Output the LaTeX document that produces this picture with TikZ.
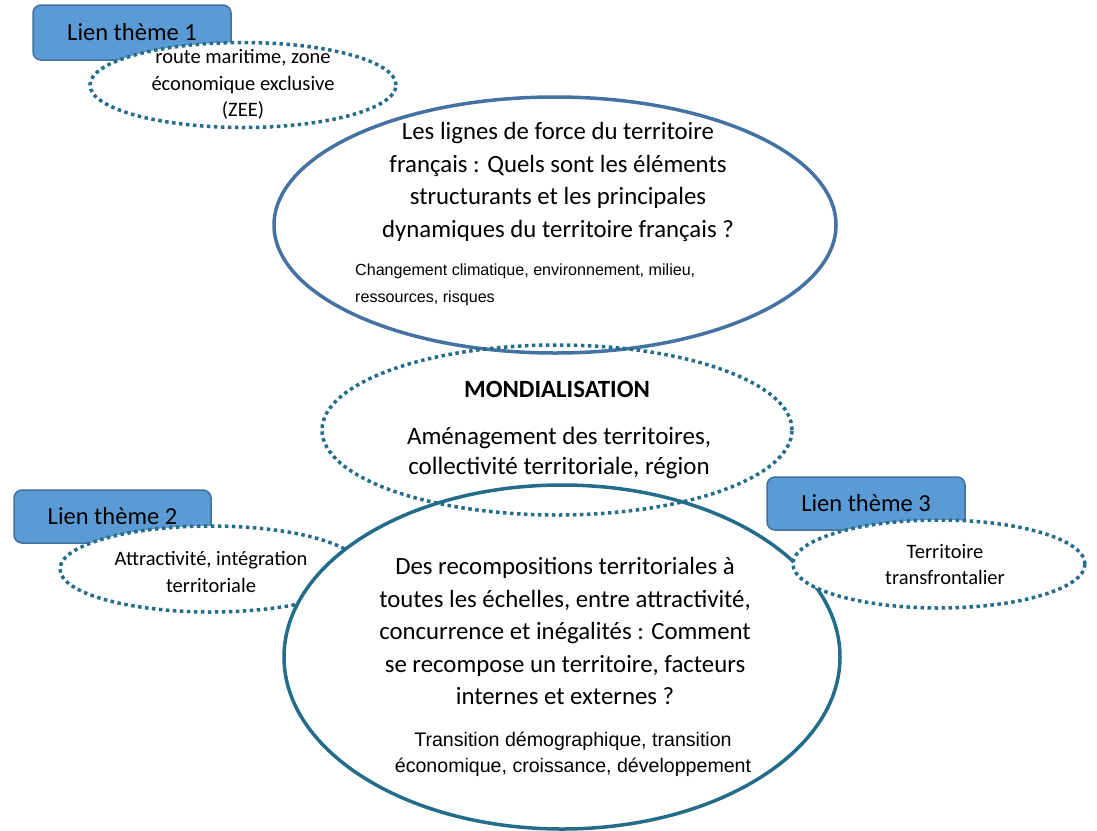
\documentclass[tikz,border=0pt]{standalone}
\usepackage{fontspec}
\setmainfont{Carlito}
\newfontfamily\arialfont{Liberation Sans}
\usetikzlibrary{shapes.geometric}
\definecolor{boxfill}{HTML}{5B9BD5}
\definecolor{boxline}{HTML}{41719C}
\definecolor{topline}{HTML}{4472A3}
\definecolor{tealline}{HTML}{236C8A}
\begin{document}
\begin{tikzpicture}[x=1pt,y=-1pt,
  lienbox/.style={draw=boxline, fill=boxfill, line width=1.5pt, rounded corners=8pt, inner sep=0pt, font=\fontsize{24.5}{28}\selectfont},
  dotell/.style={ellipse, draw=tealline, line width=3.5pt, dash pattern=on 3.5pt off 3.5pt, inner sep=0pt},
  bigell/.style={ellipse, line width=3.5pt, inner sep=0pt},
  maintext/.style={align=center, inner sep=0pt, font=\fontsize{24.8}{32.5}\selectfont},
  smalltext/.style={align=center, inner sep=0pt, font=\fontsize{20.5}{26.5}\selectfont},
  ariatext/.style={inner sep=0pt, font=\arialfont\fontsize{16.1}{27}\selectfont}
]
\useasboundingbox (0,0) rectangle (1097,830);

% Theme 1
\node[lienbox, minimum width=198pt, minimum height=55pt] (box1) at (132,32.5) {Lien thème 1};
\node[dotell, fill=white, minimum width=306pt, minimum height=85pt] (e1) at (243,85) {};
\node[smalltext] (e1t) at (243,84.5) {route maritime, zone\\économique exclusive\\(ZEE)};
\node[bigell, draw=topline, minimum width=562pt, minimum height=256pt] (top) at (555,225) {};
\node[maintext] (topt) at (558,182) {Les lignes de force du territoire\\français : Quels sont les éléments\\structurants et les principales\\dynamiques du territoire français ?};
\node[ariatext, anchor=west, align=left] (topa) at (355,284.5) {Changement climatique, environnement, milieu,\\ressources, risques};

% Theme 2
\node[lienbox, minimum width=197pt, minimum height=53pt] (box2) at (112.5,516.5) {Lien thème 2};
\node[dotell, fill=white, minimum width=302pt, minimum height=86pt] (e2) at (211,569) {};
\node[smalltext] (e2t) at (211,572) {Attractivité, intégration\\territoriale};

% Bottom ellipse
\node[bigell, draw=tealline, fill=white, minimum width=556pt, minimum height=344pt] (bot) at (562,657) {};
\node[maintext] (bott) at (565,631) {Des recompositions territoriales à\\toutes les échelles, entre attractivité,\\concurrence et inégalités : Comment\\se recompose un territoire, facteurs\\internes et externes ?};
\node[ariatext, align=center, font=\arialfont\fontsize{19.6}{26}\selectfont] (bota) at (573,754) {Transition démographique, transition\\économique, croissance, développement};

% Mondialisation
\node[dotell, minimum width=470pt, minimum height=170pt] (mond) at (557,430) {};
\node[maintext, font=\bfseries\fontsize{24.8}{28}\selectfont] (mondt) at (557,389) {MONDIALISATION};
\node[maintext, font=\fontsize{25}{30}\selectfont] (monda) at (559,453) {Aménagement des territoires,\\collectivité territoriale, région};

% Theme 3
\node[lienbox, minimum width=198pt, minimum height=53pt] (box3) at (866,503.5) {Lien thème 3};
\node[dotell, fill=white, minimum width=292pt, minimum height=88pt] (e3) at (939,564) {};
\node[smalltext] (e3t) at (945,564.5) {Territoire\\transfrontalier};
\end{tikzpicture}
\end{document}
